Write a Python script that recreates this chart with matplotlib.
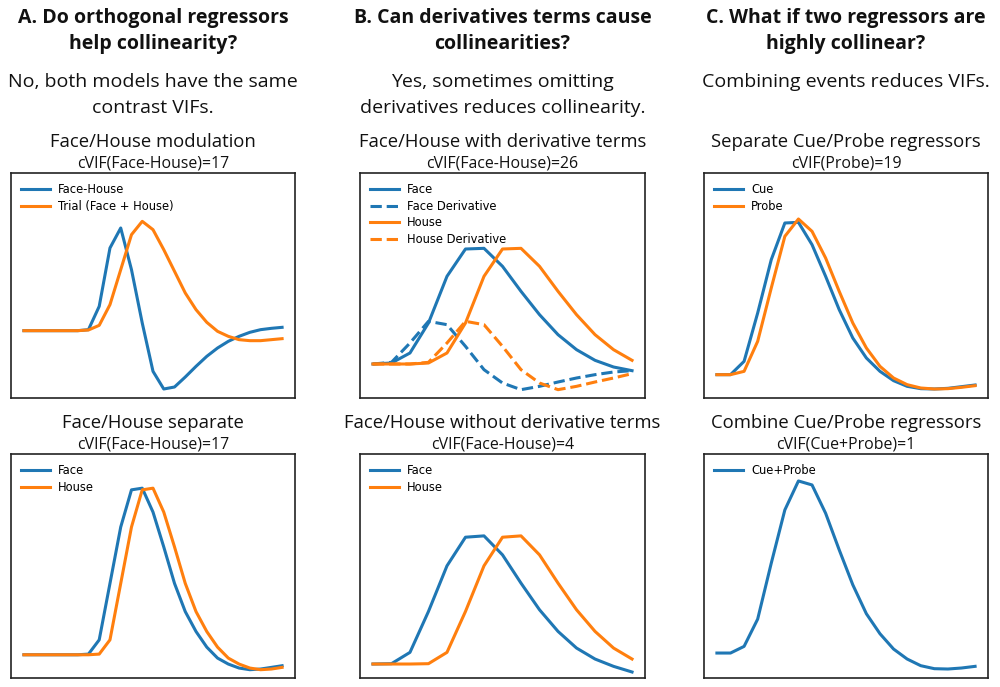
import numpy as np
import matplotlib
matplotlib.use("Agg")
import matplotlib.pyplot as plt

BLUE = "#1f77b4"
ORANGE = "#ff7f0e"

# column A, top: Face/House modulation (25 samples)
a_top_diff = [0, 0, 0, 0, 0, 0, 0.03, 0.73, 2.48, 3.08, 1.83, 0.23, -1.22, -1.75, -1.69,
              -1.39, -1.07, -0.77, -0.52, -0.32, -0.17, -0.05, 0.03, 0.07, 0.10]
a_top_trial = [0, 0, 0, 0, 0, 0, 0.02, 0.16, 0.78, 1.83, 2.88, 3.28, 3.03, 2.43, 1.78,
               1.13, 0.63, 0.25, -0.02, -0.17, -0.27, -0.30, -0.30, -0.27, -0.24]
# column A, bottom: Face/House separate
a_bot_face = [0, 0, 0, 0, 0, 0, 0.02, 0.45, 2.15, 3.85, 4.97, 5.02, 4.30, 3.25, 2.15,
              1.30, 0.70, 0.23, -0.10, -0.28, -0.40, -0.45, -0.43, -0.38, -0.33]
a_bot_house = [0, 0, 0, 0, 0, 0, 0, 0.02, 0.45, 2.15, 3.85, 4.97, 5.02, 4.30, 3.25,
               2.15, 1.30, 0.70, 0.23, -0.10, -0.28, -0.40, -0.45, -0.43, -0.38]

# column B, top: with derivative terms (15 samples)
b_top_face = [0, 0.03, 0.33, 1.23, 2.63, 3.45, 3.47, 2.93, 2.18, 1.48, 0.88, 0.43, 0.11, -0.09, -0.20]
b_top_face_d = [0, 0.05, 0.63, 1.28, 1.18, 0.53, -0.17, -0.57, -0.77, -0.67, -0.54, -0.42, -0.32, -0.24, -0.20]
b_top_house = [0, 0, 0, 0.03, 0.33, 1.23, 2.63, 3.45, 3.47, 2.93, 2.18, 1.48, 0.88, 0.43, 0.11]
b_top_house_d = [0, 0, 0, 0.05, 0.63, 1.28, 1.18, 0.53, -0.17, -0.57, -0.77, -0.67, -0.54, -0.42, -0.29]
# column B, bottom: without derivative terms
b_bot_face = [0, 0.01, 0.35, 1.58, 2.95, 3.81, 3.85, 3.28, 2.43, 1.63, 0.98, 0.48, 0.15, -0.07, -0.24]
b_bot_house = [0, 0, 0, 0.01, 0.35, 1.58, 2.95, 3.81, 3.85, 3.28, 2.43, 1.63, 0.98, 0.48, 0.15]

# column C, top: separate cue/probe (20 samples)
c_top_cue = [0, 0, 0.40, 1.85, 3.45, 4.55, 4.57, 3.90, 2.95, 1.95, 1.10, 0.50, 0.10, -0.18,
             -0.35, -0.42, -0.43, -0.41, -0.36, -0.31]
c_top_probe = [0, 0, 0.10, 1.00, 2.60, 4.15, 4.67, 4.30, 3.50, 2.50, 1.55, 0.80, 0.25, -0.10,
               -0.30, -0.40, -0.43, -0.42, -0.38, -0.33]
# column C, bottom: combined
c_bot_comb = [0, 0, 0.20, 1.02, 2.70, 4.30, 5.17, 5.05, 4.20, 3.10, 2.05, 1.18, 0.58, 0.12,
              -0.18, -0.38, -0.47, -0.48, -0.45, -0.40]

headers = [["A. Do orthogonal regressors", "help collinearity?"],
           ["B. Can derivatives terms cause", "collinearities?"],
           ["C. What if two regressors are", "highly collinear?"]]
answers = [["No, both models have the same", "contrast VIFs."],
           ["Yes, sometimes omitting", "derivatives reduces collinearity."],
           ["Combining events reduces VIFs."]]
titles = [["Face/House modulation", "Face/House separate"],
          ["Face/House with derivative terms", "Face/House without derivative terms"],
          ["Separate Cue/Probe regressors", "Combine Cue/Probe regressors"]]
cvifs = [["cVIF(Face-House)=17", "cVIF(Face-House)=17"],
         ["cVIF(Face-House)=26", "cVIF(Face-House)=4"],
         ["cVIF(Probe)=19", "cVIF(Cue+Probe)=1"]]

W, H = 1000, 687
fig = plt.figure(figsize=(W / 100, H / 100), dpi=100)
TFONT = "Open Sans"

col_x = [(11, 295), (360, 645), (704, 988)]
row_y = [(173, 398), (454, 678)]


def make_ax(c, r):
    x0, x1 = col_x[c]
    y0, y1 = row_y[r]
    ax = fig.add_axes([x0 / W, 1 - y1 / H, (x1 - x0) / W, (y1 - y0) / H])
    ax.set_xticks([])
    ax.set_yticks([])
    for s in ax.spines.values():
        s.set_linewidth(1.2)
        s.set_color("#222222")
    return ax


def ftext(x, y, s, **kw):
    fig.text(x, 1 - y / H, s, ha="center", va="baseline", family=TFONT,
             color="#111111", **kw)


def titled(ax, c, r):
    cx = (col_x[c][0] + col_x[c][1]) / 2 / W
    ty = row_y[r][0]
    ftext(cx, ty - 26, titles[c][r], fontsize=13.3)
    ftext(cx, ty - 5.5, cvifs[c][r], fontsize=11.4)


def leg(ax):
    ax.legend(loc="upper left", frameon=False, fontsize=8.3, handlelength=2.5,
              handletextpad=0.7, labelspacing=0.3)


lw = 2.2

# A top
ax = make_ax(0, 0)
ax.plot(a_top_diff, color=BLUE, lw=lw, label="Face-House")
ax.plot(a_top_trial, color=ORANGE, lw=lw, label="Trial (Face + House)")
ax.set_ylim(-2.02, 4.73)
leg(ax); titled(ax, 0, 0)

# A bottom
ax = make_ax(0, 1)
ax.plot(a_bot_face, color=BLUE, lw=lw, label="Face")
ax.plot(a_bot_house, color=ORANGE, lw=lw, label="House")
ax.set_ylim(-0.70, 6.05)
leg(ax); titled(ax, 0, 1)

# B top
ax = make_ax(1, 0)
ax.plot(b_top_face, color=BLUE, lw=lw, label="Face")
ax.plot(b_top_face_d, color=BLUE, lw=lw, ls="--", label="Face Derivative")
ax.plot(b_top_house, color=ORANGE, lw=lw, label="House")
ax.plot(b_top_house_d, color=ORANGE, lw=lw, ls="--", label="House Derivative")
ax.set_ylim(-1.02, 5.73)
leg(ax); titled(ax, 1, 0)

# B bottom
ax = make_ax(1, 1)
ax.plot(b_bot_face, color=BLUE, lw=lw, label="Face")
ax.plot(b_bot_house, color=ORANGE, lw=lw, label="House")
ax.set_ylim(-0.42, 6.31)
leg(ax); titled(ax, 1, 1)

# C top
ax = make_ax(2, 0)
ax.plot(c_top_cue, color=BLUE, lw=lw, label="Cue")
ax.plot(c_top_probe, color=ORANGE, lw=lw, label="Probe")
ax.set_ylim(-0.70, 6.05)
leg(ax); titled(ax, 2, 0)

# C bottom
ax = make_ax(2, 1)
ax.plot(c_bot_comb, color=BLUE, lw=lw, label="Cue+Probe")
ax.set_ylim(-0.75, 5.98)
leg(ax); titled(ax, 2, 1)

# column headers + answers, one text per line
for c in range(3):
    cx = (col_x[c][0] + col_x[c][1]) / 2 / W
    for i, line in enumerate(headers[c]):
        ftext(cx, 23 + 26 * i, line, fontsize=14, fontweight="bold")
    for i, line in enumerate(answers[c]):
        ftext(cx, 87 + 26 * i, line, fontsize=14)

fig.savefig("out.png", dpi=100)
